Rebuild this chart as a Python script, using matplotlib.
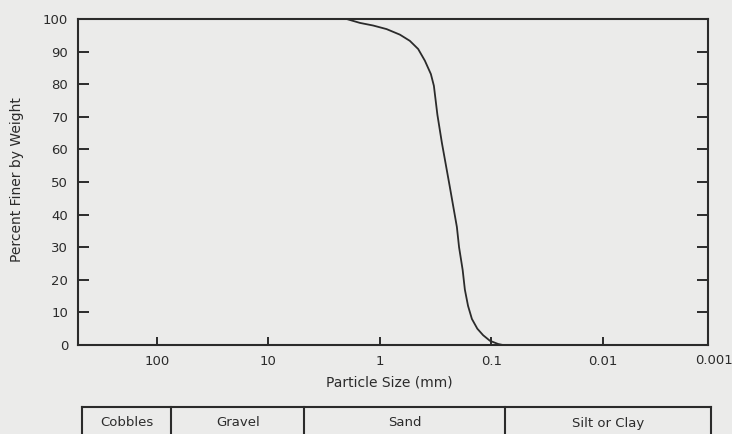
import matplotlib
matplotlib.use("Agg")
import matplotlib.pyplot as plt
from matplotlib.transforms import blended_transform_factory
from matplotlib.lines import Line2D

# ---- data ----
particle_size_mm = [1.99, 1.51, 1.15, 0.871, 0.662, 0.539, 0.454, 0.395, 0.349,
                    0.328, 0.305, 0.278, 0.236, 0.204, 0.195, 0.181, 0.173, 0.162,
                    0.1496, 0.1337, 0.1186, 0.1031, 0.0869, 0.0789]
percent_finer = [100.0, 98.8, 98.0, 96.9, 95.2, 93.3, 90.8, 87.2, 83.1,
                 79.5, 70.6, 62.0, 48.5, 36.2, 30.0, 23.0, 17.0, 12.0,
                 8.0, 5.0, 3.0, 1.3, 0.3, 0.0]

x_ticks = [100, 10, 1, 0.1, 0.01]
x_tick_labels = ["100", "10", "1", "0.1", "0.01"]
extra_x_label = (0.001, "0.001")
y_ticks = [0, 10, 20, 30, 40, 50, 60, 70, 80, 90, 100]

class_names = ["Cobbles", "Gravel", "Sand", "Silt or Clay"]
class_bounds_mm = [75, 4.75, 0.075]

# ---- style ----
W, H = 732, 434
DPI = 100
bg = "#ebebea"
ink = "#2b2b2b"
plt.rcParams['font.family'] = ['DejaVu Sans']

fig = plt.figure(figsize=(W / DPI, H / DPI), dpi=DPI, facecolor=bg)
L, R, T, B = 78, 708, 19, 345
ax = fig.add_axes([L / W, 1 - B / H, (R - L) / W, (B - T) / H], facecolor=bg)

ax.plot(particle_size_mm, percent_finer, color=ink, lw=1.3,
        solid_capstyle='round', solid_joinstyle='round')

ax.set_xscale('log')
ax.set_xlim(511, 0.00114)
ax.set_ylim(0, 100)

for s in ax.spines.values():
    s.set_linewidth(1.5)
    s.set_color(ink)

ax.set_xticks(x_ticks)
ax.set_xticklabels(x_tick_labels)
ax.xaxis.set_minor_locator(plt.NullLocator())
ax.tick_params(axis='x', direction='in', length=6, width=1.4, color=ink,
               labelsize=9.5, labelcolor=ink, pad=7, top=False)

ax.set_yticks(y_ticks)
ax.set_yticklabels([str(v) for v in y_ticks])
ax.tick_params(axis='y', direction='in', length=8, width=1.4, color=ink,
               labelsize=9.5, labelcolor=ink, pad=7, right=True)
for t in (ax.yaxis.get_major_ticks()[0], ax.yaxis.get_major_ticks()[-1]):
    t.tick1line.set_visible(False)
    t.tick2line.set_visible(False)

ax.text(extra_x_label[0], -(360 - 345 - 5.5) / (B - T), extra_x_label[1],
        transform=blended_transform_factory(ax.transData, ax.transAxes),
        ha='center', va='top', fontsize=9.5, color=ink, clip_on=False)

fig.text(389 / W, 1 - 383 / H, "Particle Size (mm)", ha='center', va='center',
         fontsize=10, color=ink)
fig.text(17 / W, 1 - 180 / H, "Percent Finer by Weight", ha='center', va='center',
         rotation=90, fontsize=10, color=ink)

# ---- classification table below the axes ----
tf = fig.transFigure
tleft, tright, ttop, tbot = 82 / W, 711 / W, 1 - 407 / H, 0.0
fig.add_artist(Line2D([tleft, tright], [ttop, ttop], transform=tf, color=ink, lw=1.5))
fig.add_artist(Line2D([tleft, tleft], [ttop, tbot], transform=tf, color=ink, lw=1.5))
fig.add_artist(Line2D([tright, tright], [ttop, tbot], transform=tf, color=ink, lw=1.5))
bt = blended_transform_factory(ax.transData, tf)
for b in class_bounds_mm:
    fig.add_artist(Line2D([b, b], [ttop, tbot], transform=bt, color=ink, lw=1.5))

fig.canvas.draw()
edges_px = [tleft * W] + [ax.transData.transform((b, 0))[0] for b in class_bounds_mm] + [tright * W]
for i, name in enumerate(class_names):
    cx = (edges_px[i] + edges_px[i + 1]) / 2 / W
    fig.text(cx, 1 - 423 / H, name, ha='center', va='center', fontsize=9.5, color=ink)

fig.savefig("out.png", dpi=DPI, facecolor=bg)
